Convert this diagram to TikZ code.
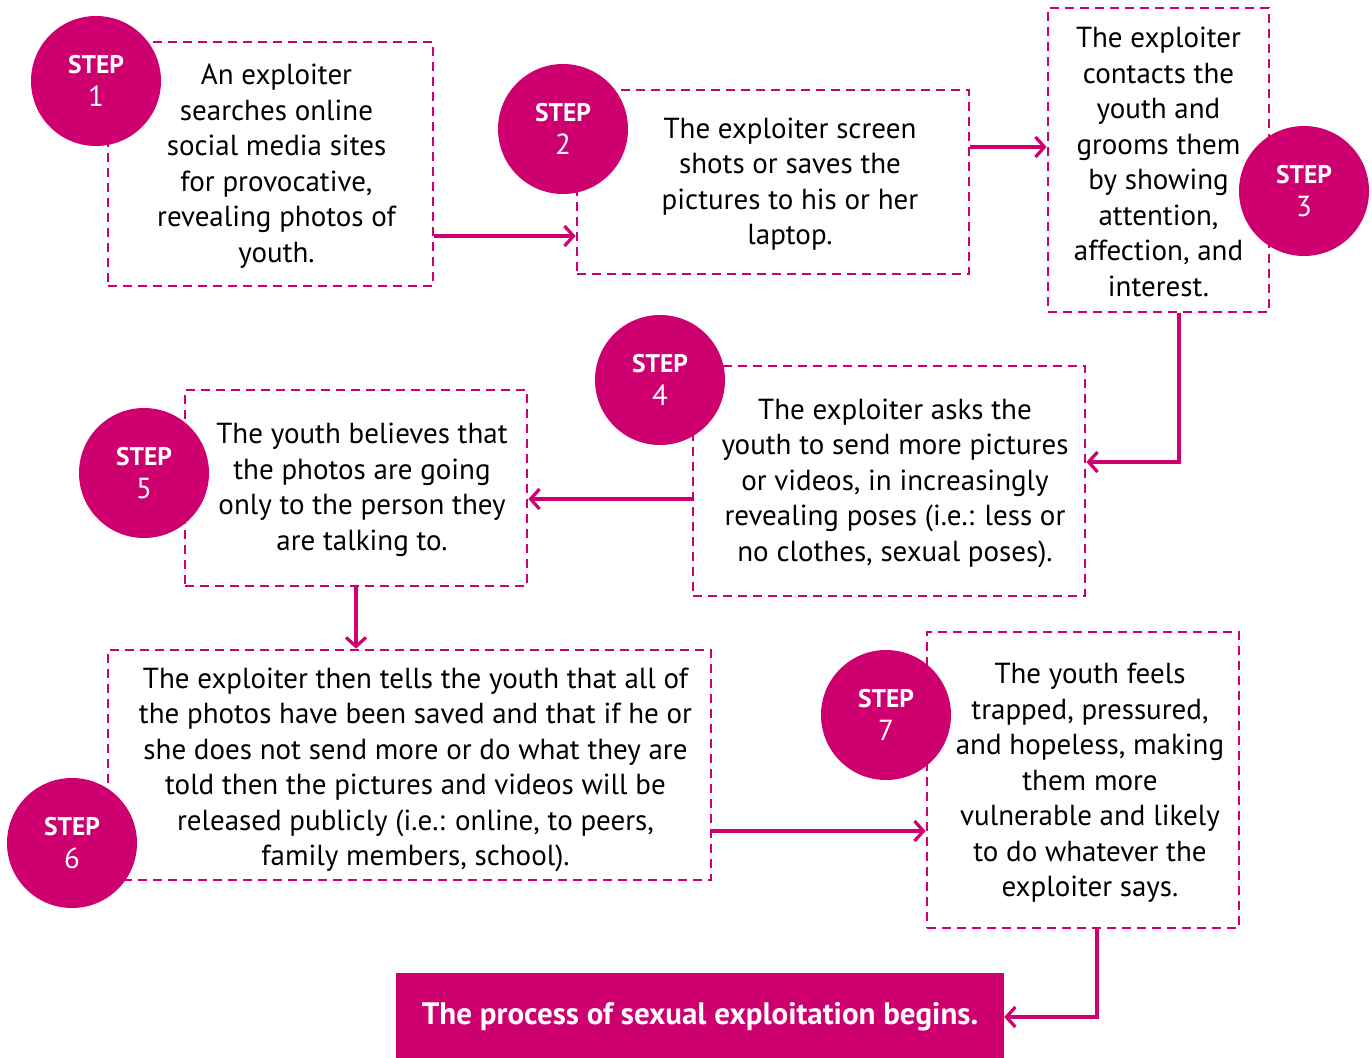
\documentclass[tikz,border=0pt]{standalone}
\usepackage{fontspec}
\setmainfont{PT Sans}
\usetikzlibrary{arrows.meta,positioning}
\definecolor{mag}{RGB}{206,0,112}

\begin{document}
\begin{tikzpicture}[
    x=1pt, y=-1pt,
    stepbox/.style={draw=mag, dashed, dash pattern=on 9pt off 6pt,
      line width=2.8pt, fill=white, inner sep=0pt},
    steptext/.style={align=center, font=\fontsize{29}{35.5}\selectfont,
      inner sep=0pt},
    badge/.style={circle, fill=mag, text=white, minimum size=130pt,
      inner sep=0pt, align=center, font=\fontsize{25.5}{33}\selectfont},
    arr/.style={-{Straight Barb[length=9pt, width=20pt]}, line width=3.2pt, mag},
  ]
  \useasboundingbox (0,0) rectangle (1372,1057);

  % Boxes
  \node[stepbox, minimum width=325pt, minimum height=244pt] (b1) at (270.5,164) {};
  \node[stepbox, minimum width=392pt, minimum height=184pt] (b2) at (773,182) {};
  \node[stepbox, minimum width=221pt, minimum height=304pt] (b3) at (1158.5,160) {};
  \node[stepbox, minimum width=392pt, minimum height=230pt] (b4) at (889,481) {};
  \node[stepbox, minimum width=342pt, minimum height=196pt] (b5) at (356,488) {};
  \node[stepbox, minimum width=603pt, minimum height=230pt] (b6) at (409.5,765) {};
  \node[stepbox, minimum width=312pt, minimum height=296pt] (b7) at (1083,780) {};

  % Box texts
  \node[steptext] (t1) at ([xshift=6pt,yshift=-2pt]b1) {An exploiter\\searches online\\social media sites\\for provocative,\\revealing photos of\\youth.};
  \node[steptext] (t2) at ([xshift=17pt,yshift=-2pt]b2) {The exploiter screen\\shots or saves the\\pictures to his or her\\laptop.};
  \node[steptext] (t3) at ([yshift=-2pt]b3) {The exploiter\\contacts the\\youth and\\grooms them\\by showing\\attention,\\affection, and\\interest.};
  \node[steptext] (t4) at ([xshift=6pt,yshift=-2pt]b4) {The exploiter asks the\\youth to send more pictures\\or videos, in increasingly\\revealing poses (i.e.: less or\\no clothes, sexual poses).};
  \node[steptext] (t5) at ([xshift=6pt,yshift=-2pt]b5) {The youth believes that\\the photos are going\\only to the person they\\are talking to.};
  \node[steptext] (t6) at ([xshift=6pt,yshift=-5pt]b6) {The exploiter then tells the youth that all of\\the photos have been saved and that if he or\\she does not send more or do what they are\\told then the pictures and videos will be\\released publicly (i.e.: online, to peers,\\family members, school).};
  \node[steptext] (t7) at ([xshift=7pt,yshift=-3pt]b7) {The youth feels\\trapped, pressured,\\and hopeless, making\\them more\\vulnerable and likely\\to do whatever the\\exploiter says.};

  % Step badges
  \foreach \n/\px/\py in {1/96/81, 2/563/129, 3/1304/191, 4/660/380,
                          5/144/473, 6/72/843, 7/886/715}
    \node[badge] (c\n) at (\px,\py)
      {\bfseries STEP\\{\fontsize{29}{33}\selectfont \n}};

  % Closing box
  \node[fill=mag, text=white, minimum width=608pt, minimum height=88pt,
    font=\fontsize{31}{33}\selectfont\bfseries] (fin) at (700,1017)
    {The process of sexual exploitation begins.};

  % Arrows
  \draw[arr] ([yshift=-72pt]b1.east) -- ([yshift=-72pt]b1.east -| b2.west);
  \draw[arr] ([yshift=35pt]b2.east) -- ([yshift=35pt]b2.east -| b3.west);
  \draw[arr] ([xshift=20.5pt]b3.south) |- ([yshift=19pt]b4.east);
  \draw[arr] ([yshift=-18pt]b4.west) -- ([yshift=-18pt]b4.west -| b5.east);
  \draw[arr] (b5.south) -- (b5.south |- b6.north);
  \draw[arr] ([yshift=-66pt]b6.east) -- ([yshift=-66pt]b6.east -| b7.west);
  \draw[arr] ([xshift=14pt]b7.south) |- (fin.east);
\end{tikzpicture}
\end{document}
